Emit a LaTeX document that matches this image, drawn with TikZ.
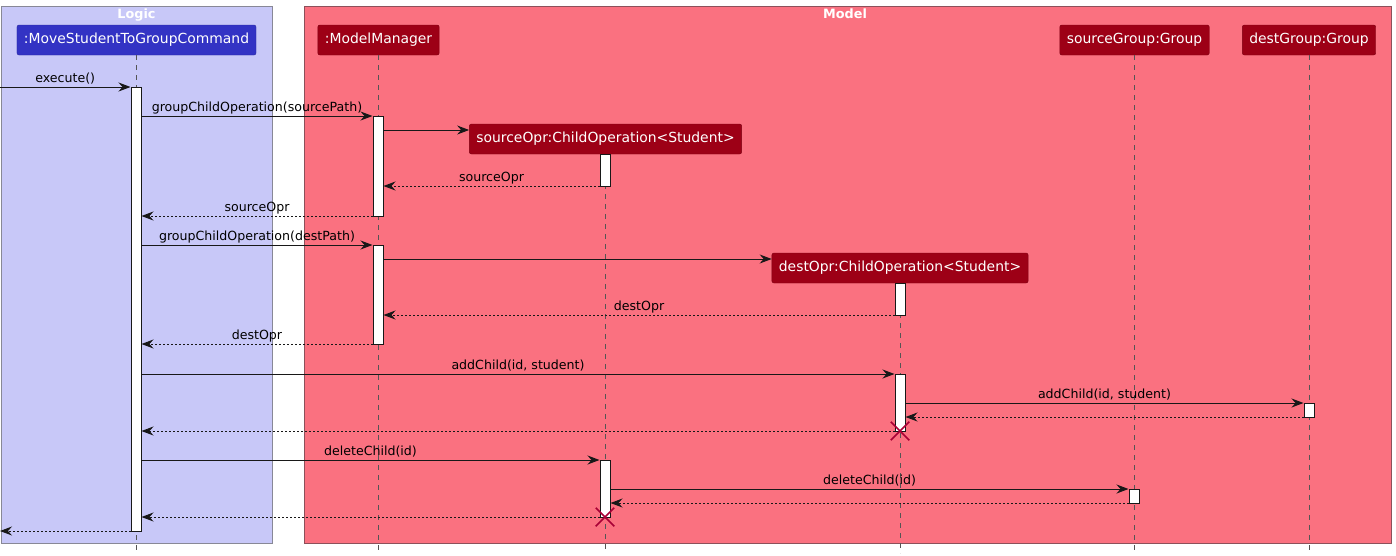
\documentclass[tikz,border=0pt]{standalone}
\usepackage{fontspec}
\setmainfont{DejaVu Sans}
\usetikzlibrary{arrows.meta,shapes.misc}
\definecolor{logicbg}{RGB}{200,200,248}
\definecolor{logicln}{RGB}{136,136,150}
\definecolor{modelbg}{RGB}{250,113,128}
\definecolor{modelln}{RGB}{140,80,90}
\definecolor{cmdblue}{RGB}{51,51,196}
\definecolor{modred}{RGB}{157,0,22}
\definecolor{xred}{RGB}{168,0,54}
\definecolor{ink}{RGB}{24,24,24}
\definecolor{lifegray}{RGB}{85,85,85}
\begin{document}
\begin{tikzpicture}[x=1pt,y=-1pt,
  part/.style={draw=modred!80!black, fill=modred, rounded corners=2pt, text=white,
    font=\fontsize{13.9}{16}\selectfont, minimum height=30pt, inner xsep=7pt, inner ysep=0pt},
  cmdpart/.style={part, fill=cmdblue, draw=cmdblue!80!black},
  grptitle/.style={text=white, anchor=base, inner sep=0pt, font=\bfseries\fontsize{12.8}{15}\selectfont},
  lifeline/.style={draw=lifegray, line width=0.8pt, dash pattern=on 5pt off 5pt},
  actbar/.style={draw=ink, fill=white, line width=1pt, minimum width=10pt, inner sep=0pt, anchor=north},
  msg/.style={draw=ink, line width=1pt, -{Stealth[length=12pt,width=9pt,inset=4pt]}},
  ret/.style={msg, dash pattern=on 2pt off 2pt},
  lbl/.style={anchor=base, yshift=4.5pt, text=black, font=\fontsize{12.6}{15}\selectfont, inner sep=0pt},
  destroy/.style={cross out, draw=xred, line width=1.5pt, minimum size=17pt, inner sep=0pt}
]
\useasboundingbox (0,0) rectangle (1396,555);
\fill[white] (0,0) rectangle (1396,555);
% groups
\draw[fill=logicbg, draw=logicln, line width=1pt] (1,6) rectangle (272,543);
\node[grptitle] (tlogic) at (136.5,18) {Logic};
\draw[fill=modelbg, draw=modelln, line width=1pt] (304,6) rectangle (1391,543);
\node[grptitle] (tmodel) at (845,18) {Model};
% participants
\node[cmdpart] (cmd) at (136.5,40) {:MoveStudentToGroupCommand};
\node[part] (mm) at (378.5,40) {:ModelManager};
\node[part] (sg) at (1134.5,40) {sourceGroup:Group};
\node[part] (dg) at (1309,40) {destGroup:Group};
\node[part] (so) at (605.5,139) {sourceOpr:ChildOperation<Student>};
\node[part] (do) at (900,268) {destOpr:ChildOperation<Student>};
% lifelines
\draw[lifeline] (136,55) -- (136,553);
\draw[lifeline] (378,55) -- (378,553);
\draw[lifeline] (1134,55) -- (1134,553);
\draw[lifeline] (1309,55) -- (1309,553);
\draw[lifeline] (605,154) -- (605,553);
\draw[lifeline] (900,283) -- (900,553);
% activation bars
\node[actbar, minimum height=444pt] (cmdA) at (136,87) {};
\node[actbar, minimum height=100pt] (mmA) at (378,116) {};
\node[actbar, minimum height=99pt] (mmB) at (378,245) {};
\node[actbar, minimum height=32pt] (soA) at (605,154) {};
\node[actbar, minimum height=57pt] (soB) at (605,460) {};
\node[actbar, minimum height=32pt] (doA) at (900,283) {};
\node[actbar, minimum height=57pt] (doB) at (900,374) {};
\node[actbar, minimum height=14pt] (dgA) at (1309,403) {};
\node[actbar, minimum height=14pt] (sgA) at (1134,489) {};
% free ends
\coordinate (inL) at (0,87);
\coordinate (outL) at (0,531);
% messages
\draw[msg] (inL) -- node[lbl]{execute()} (cmdA.west |- 0,87);
\draw[msg] (cmdA.east |- 0,116) -- node[lbl]{groupChildOperation(sourcePath)} (mmA.west |- 0,116);
\draw[msg] (mmA.east |- 0,130) -- (so.west |- 0,130);
\draw[ret] (soA.west |- 0,186) -- node[lbl]{sourceOpr} (mmA.east |- 0,186);
\draw[ret] (mmA.west |- 0,216) -- node[lbl]{sourceOpr} (cmdA.east |- 0,216);
\draw[msg] (cmdA.east |- 0,245) -- node[lbl]{groupChildOperation(destPath)} (mmB.west |- 0,245);
\draw[msg] (mmB.east |- 0,259) -- (do.west |- 0,259);
\draw[ret] (doA.west |- 0,315) -- node[lbl]{destOpr} (mmB.east |- 0,315);
\draw[ret] (mmB.west |- 0,344) -- node[lbl]{destOpr} (cmdA.east |- 0,344);
\draw[msg] (cmdA.east |- 0,374) -- node[lbl]{addChild(id, student)} (doB.west |- 0,374);
\draw[msg] (doB.east |- 0,403) -- node[lbl]{addChild(id, student)} (dgA.west |- 0,403);
\draw[ret] (dgA.west |- 0,417) -- (doB.east |- 0,417);
\draw[ret] (doB.west |- 0,431) -- (cmdA.east |- 0,431);
\draw[msg] (cmdA.east |- 0,460) -- node[lbl]{deleteChild(id)} (soB.west |- 0,460);
\draw[msg] (soB.east |- 0,489) -- node[lbl]{deleteChild(id)} (sgA.west |- 0,489);
\draw[ret] (sgA.west |- 0,503) -- (soB.east |- 0,503);
\draw[ret] (soB.west |- 0,517) -- (cmdA.east |- 0,517);
\draw[ret] (cmdA.west |- 0,531) -- (outL);
% destroy marks
\node[destroy] (xdo) at (900,431) {};
\node[destroy] (xso) at (605,517) {};
\end{tikzpicture}
\end{document}
